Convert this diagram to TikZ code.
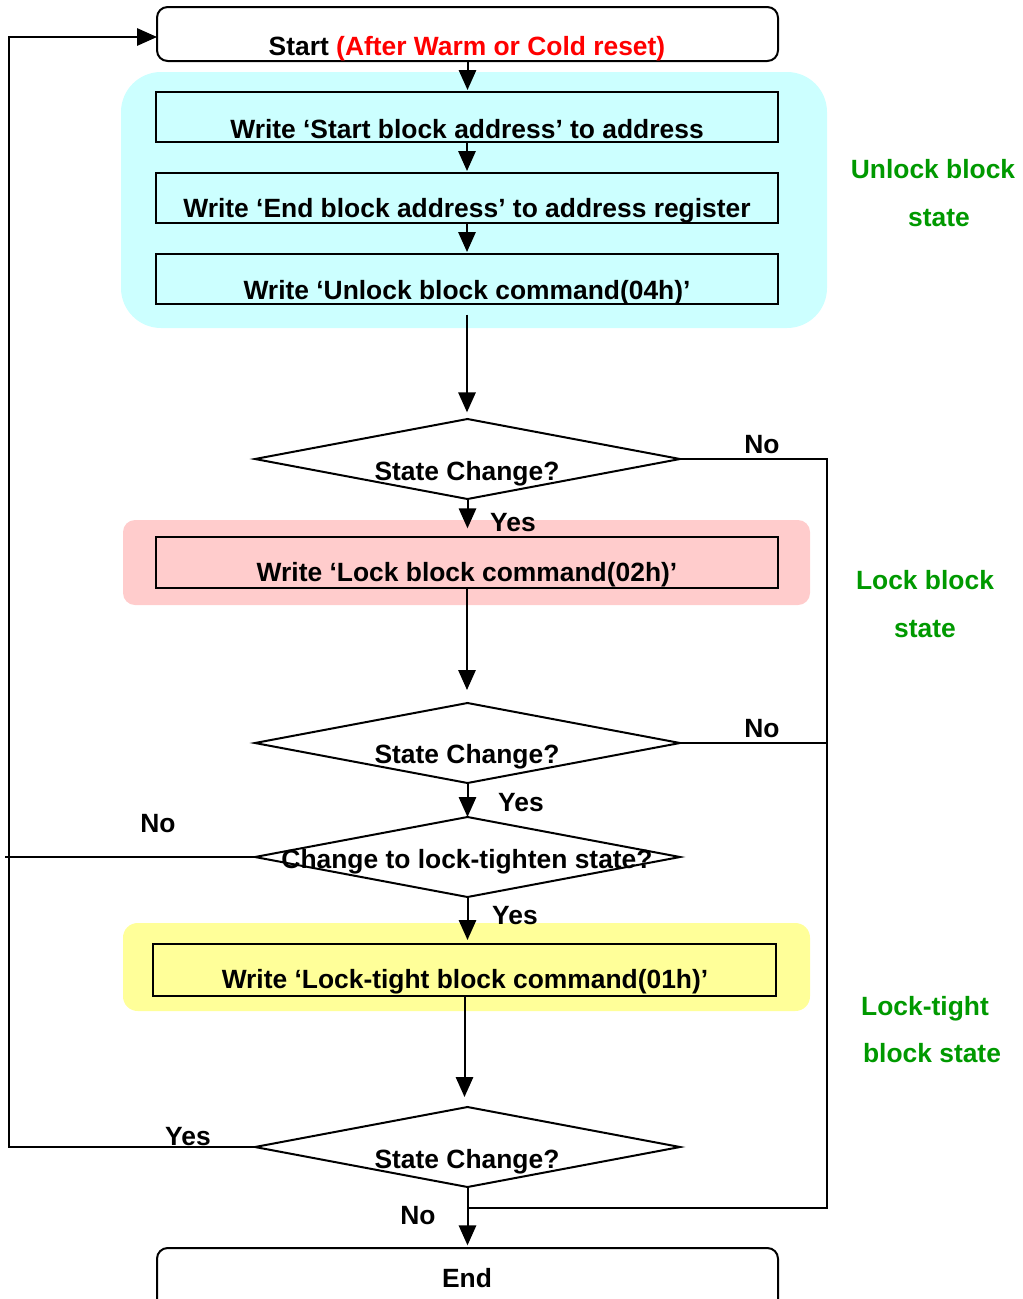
\documentclass[tikz,border=0pt]{standalone}
\usepackage{fontspec}
\setmainfont{Liberation Sans}
\usetikzlibrary{shapes.geometric,arrows.meta,fit}
\definecolor{ucyan}{HTML}{CCFFFF}
\definecolor{upink}{HTML}{FFCCCC}
\definecolor{uyellow}{HTML}{FFFF99}
\definecolor{ugreen}{HTML}{009900}
\definecolor{ured}{HTML}{FF0000}
\begin{document}
\begin{tikzpicture}[x=0.75pt,y=-0.75pt,
  font=\fontsize{19.8}{24}\selectfont\bfseries,
  line width=1.5pt,
  bgarea/.style={fill=#1, draw=none, inner sep=0pt, outer sep=0pt},
  stepbox/.style={draw, inner sep=0pt, outer sep=0pt},
  termbox/.style={draw, inner sep=0pt, outer sep=0pt, rounded corners=8pt},
  dia/.style={diamond, draw, inner sep=0pt, outer sep=0pt, minimum width=318.75pt, minimum height=60pt},
  txt/.style={anchor=base, inner sep=0pt},
  lbl/.style={anchor=base, inner sep=0pt},
  grn/.style={anchor=base, inner sep=0pt, text=ugreen},
  arr/.style={-{Triangle[length=15pt,width=13pt]}}
]
\useasboundingbox (0,0) rectangle (1023,1299);

% background areas
\node[bgarea=ucyan, rounded corners=30pt, fit={(121,72)(827,328)}] (ubg) {};
\node[bgarea=upink, rounded corners=9pt, fit={(123,520)(810,605)}] (pbg) {};
\node[bgarea=uyellow, rounded corners=11pt, fit={(123,923)(810,1011)}] (ybg) {};

% terminals
\node[termbox, fit={(157,7)(778,61)}] (start) {};
\node[txt] (tstart) at (467,55) {Start \textcolor{ured}{(After Warm or Cold reset)}};
\node[termbox, fit={(157,1248)(778,1330)}] (end) {};
\node[txt] (tend) at (467,1287) {End};

% process boxes
\node[stepbox, fit={(156,92)(778,142)}] (b1) {};
\node[txt] (tb1) at (467,138) {Write ‘Start block address’ to address};
\node[stepbox, fit={(156,173)(778,223)}] (b2) {};
\node[txt] (tb2) at (467,217) {Write ‘End block address’ to address register};
\node[stepbox, fit={(156,254)(778,304)}] (b3) {};
\node[txt] (tb3) at (467,299) {Write ‘Unlock block command(04h)’};
\node[stepbox, fit={(156,537)(778,588)}] (lk) {};
\node[txt] (tlk) at (467,581) {Write ‘Lock block command(02h)’};
\node[stepbox, fit={(153,944)(776,996)}] (lt) {};
\node[txt] (tlt) at (465,988) {Write ‘Lock-tight block command(01h)’};

% decisions
\node[dia] (d1) at (467.5,459) {};
\node[txt] (td1) at (467,480) {State Change?};
\node[dia] (d2) at (467.5,743) {};
\node[txt] (td2) at (467,763) {State Change?};
\node[dia] (d3) at (467.5,857) {};
\node[txt] (td3) at (467,868) {Change to lock-tighten state?};
\node[dia] (d4) at (467.5,1147) {};
\node[txt] (td4) at (467,1168) {State Change?};

% side labels
\node[grn] (g1) at (933,178) {Unlock block};
\node[grn] (g2) at (939,226) {state};
\node[grn] (g3) at (925,589) {Lock block};
\node[grn] (g4) at (925,637) {state};
\node[grn] (g5) at (925,1015) {Lock-tight};
\node[grn] (g6) at (932,1062) {block state};

% connector labels
\node[lbl] (n1) at (762,453) {No};
\node[lbl] (y1) at (513,531) {Yes};
\node[lbl] (n2) at (762,737) {No};
\node[lbl] (y2) at (521,811) {Yes};
\node[lbl] (n3) at (158,832) {No};
\node[lbl] (y3) at (515,924) {Yes};
\node[lbl] (y4) at (188,1145) {Yes};
\node[lbl] (n4) at (418,1224) {No};

% coordinates for free ends / bends
\coordinate (sIn) at (157,37);
\coordinate (lc) at (9,1147);
\coordinate (lend) at (5,857);
\coordinate (r1) at (827,459);
\coordinate (r2) at (827,743);
\coordinate (jn) at (467.5,1208);

% connectors
\draw[arr, shorten >=1.5pt] (start.south) -- (start.south |- b1.north);
\draw[arr, shorten >=1.5pt] (b1.south) -- (b1.south |- b2.north);
\draw[arr, shorten >=1.5pt] (b2.south) -- (b2.south |- b3.north);
\draw[arr, shorten <=8pt, shorten >=5pt] (b3.south) -- (b3.south |- d1.north);
\draw[arr, shorten >=6.5pt] (d1.south) -- (d1.south |- lk.north);
\draw[arr, shorten >=9.75pt] (lk.south) -- (lk.south |- d2.north);
\draw[arr] (d2.south) -- (d3.north);
\draw[arr, shorten >=3pt] (d3.south) -- (d3.south |- lt.north);
\draw[arr, shorten >=7.5pt] (lt.south) -- (lt.south |- d4.north);
\draw[arr, shorten >=2pt] (d4.south) -- (end.north);

\draw (d1.east) -- (r1) |- (jn);
\draw (d2.east) -- (r2);
\draw (d3.west) -- (lend);
\draw[arr] (d4.west) -- (lc) |- (sIn);
\end{tikzpicture}
\end{document}
